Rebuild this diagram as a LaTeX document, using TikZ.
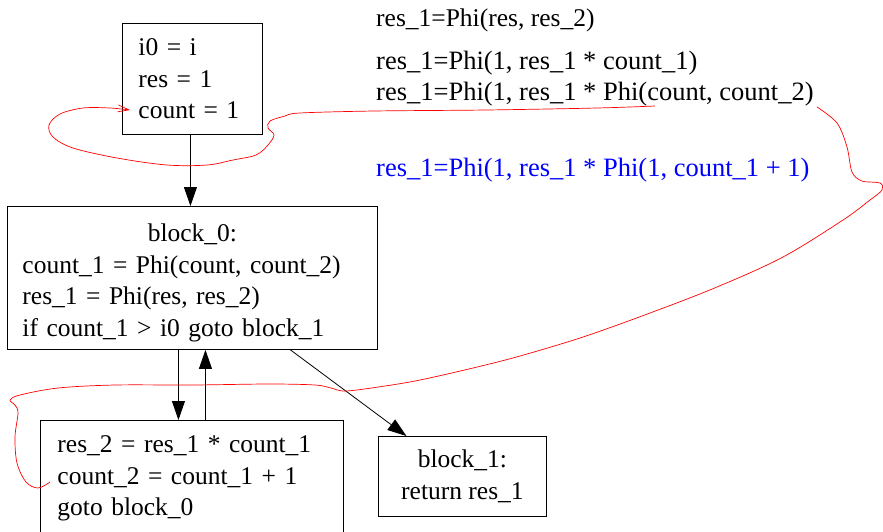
\documentclass[tikz,border=0pt]{standalone}
\usepackage{fontspec}
\setmainfont{Liberation Serif}
\usetikzlibrary{arrows.meta}
\begin{document}
\begin{tikzpicture}[x=1pt,y=-1pt,
  txt/.style={font=\fontsize{26.5}{31.5}\selectfont},
  boxtxt/.style={font=\fontsize{25.5}{31.5}\selectfont},
  box/.style={boxtxt, draw, line width=0.9pt, anchor=north west, inner ysep=0pt},
  edge/.style={line width=0.8pt, -{Triangle[length=19pt,width=13pt]}},
  note/.style={txt, anchor=base west, inner sep=0pt},
  scribble/.style={draw=red, line width=0.7pt}]
\useasboundingbox (0,0) rectangle (883,531);

% boxes
\node[box, minimum width=140pt, minimum height=111pt, inner xsep=16pt, text width=108pt, align=left] (A) at (122,23)
  {i0 = i\\res = 1\\count = 1};
\node[box, minimum width=370pt, minimum height=143pt, inner xsep=15pt, text width=340pt, align=left] (B) at (7,206)
  {\rule{0pt}{28pt}\makebox[\linewidth]{block\_0:}\\count\_1 = Phi(count, count\_2)\\res\_1 = Phi(res, res\_2)\\if count\_1 > i0 goto block\_1};
\node[box, minimum width=303pt, minimum height=116pt, inner xsep=17pt, text width=269pt, align=left] (C) at (40,420)
  {res\_2 = res\_1 * count\_1\\count\_2 = count\_1 + 1\\goto block\_0};
\node[box, minimum width=168pt, minimum height=80pt, inner xsep=0pt, align=center] (D) at (378,436)
  {block\_1:\\return res\_1};

% notes
\node[note, font=\fontsize{25.5}{31.5}\selectfont] (n1) at (376,26) {res\_1=Phi(res, res\_2)};
\node[note] (n2) at (376,69) {res\_1=Phi(1, res\_1 * count\_1)};
\node[note] (n3) at (376,100) {res\_1=Phi(1, res\_1 * Phi(count, count\_2)};
\node[note, text=blue] (n4) at (376,176) {res\_1=Phi(1, res\_1 * Phi(1, count\_1 + 1)};

% edges
\draw[edge] ([xshift=-2pt]A.south) -- ([xshift=-2pt]A.south |- B.north);
\draw[edge] ([xshift=-14pt]B.south) -- ([xshift=-14pt]B.south |- C.north);
\draw[edge] ([xshift=13pt]B.south |- C.north) -- ([xshift=13pt]B.south);
\draw[edge] ([xshift=98pt]B.south) -- ([xshift=-56pt]D.north);

% red scribbles
\coordinate (s1) at (655,106);
\coordinate (e1) at (130,110);
\draw[scribble, -{Straight Barb[length=11pt,width=7pt]}] plot[smooth, tension=0.55] coordinates {
  (s1) (597,108) (486,110) (374,111) (300,113) (285,116) (270,121) (268,128) (274,135) (268,145) (256,155)
  (233,160) (207,165) (167,165) (117,158) (73,148) (53,137) (49,125) (60,114) (83,108) (110,108) (e1)};

\coordinate (s2) at (817,107);
\coordinate (e2) at (50,482);
\draw[scribble] plot[smooth, tension=0.55] coordinates {
  (s2) (837,123) (847,147) (852,172) (862,181) (880,183) (882,190) (870,200) (843,220) (783,257) (717,287)
  (650,313) (583,337) (520,356) (473,368) (420,380) (385,386) (346,391) (331,388) (315,385) (269,384)
  (192,385) (115,385) (58,388) (20,395) (10,400) (15,405) (18,413) (15,437) (17,463) (26,482) (38,488) (e2)};
\end{tikzpicture}
\end{document}
